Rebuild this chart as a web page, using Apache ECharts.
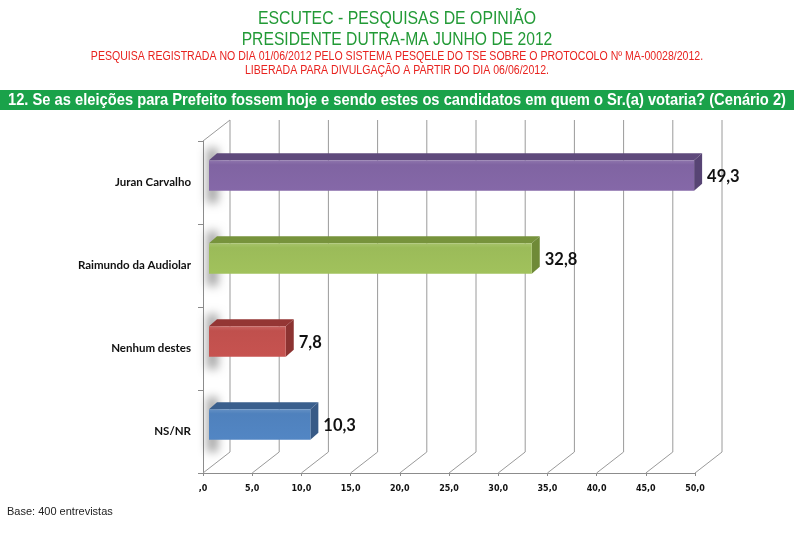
<!DOCTYPE html>
<html><head><meta charset="utf-8">
<script src="https://cdn.jsdelivr.net/npm/echarts@6/dist/echarts.min.js"></script>
<style>html,body{margin:0;padding:0;background:#fff}#c{width:794px;height:533px}</style>
</head><body><div id="c"></div>
<script>
const categories = ['NS/NR', 'Nenhum destes', 'Raimundo da Audiolar', 'Juran Carvalho'];
const values = [10.3, 7.8, 32.8, 49.3];
const frontColors = ['#4f81bd', '#c0504d', '#9bbb59', '#8064a2'];
const topColors = ['#3a5f8d', '#943634', '#77933c', '#5f4a7c'];
const sideColors = ['#385a86', '#8c3331', '#6f8a37', '#574474'];
const xTicks = [0, 5, 10, 15, 20, 25, 30, 35, 40, 45, 50];

const fmt = v => v === 0 ? ',0' : v.toFixed(1).replace('.', ',');
const WX = 27, WY = 21;      // back wall depth
const BX = 6, BY = -7;       // bar offset from front
const DX = 8, DY = 7;        // bar depth

const chart = echarts.init(document.getElementById('c'), null, {renderer: 'canvas'});
const sans = '"Liberation Sans", Arial, sans-serif';

function ntext(txt, x, y, size, color, bold, sx) {
  return {type: 'text', x: x, y: y, scaleX: sx, z: 5,
    style: {text: txt, textAlign: 'center', textVerticalAlign: 'middle', align: 'center', verticalAlign: 'middle',
      fill: color, font: (bold ? 'bold ' : '') + size + 'px ' + sans}};
}

chart.setOption({
  animation: false,
  backgroundColor: '#ffffff',
  title: [
    {text: 'Base: 400 entrevistas', left: 2, top: 501,
     textStyle: {fontFamily: sans, fontSize: 11, fontWeight: 'normal', color: '#222'}}
  ],
  graphic: [
    ntext('ESCUTEC - PESQUISAS DE OPINIÃO', 397, 19, 18, '#229a36', false, 0.88),
    ntext('PRESIDENTE DUTRA-MA JUNHO DE 2012', 397, 40, 18, '#229a36', false, 0.87),
    ntext('PESQUISA REGISTRADA NO DIA 01/06/2012 PELO SISTEMA PESQELE DO TSE SOBRE O PROTOCOLO Nº MA-00028/2012.', 397, 57, 12, '#e8231f', false, 0.88),
    ntext('LIBERADA PARA DIVULGAÇÃO A PARTIR DO DIA 06/06/2012.', 397, 71, 12, '#e8231f', false, 0.88),
    {type: 'rect', x: 0, y: 90, shape: {width: 794, height: 20}, style: {fill: '#1aa24a'}, z: 1},
    ntext('12. Se as eleições para Prefeito fossem hoje e sendo estes os candidatos em quem o Sr.(a) votaria? (Cenário 2)', 397, 100, 17, '#ffffff', true, 0.865)
  ],
  grid: {left: 203, right: 99, top: 141, bottom: 60, containLabel: false},
  xAxis: {
    type: 'value', min: 0, max: 50, interval: 5,
    axisLine: {show: true, lineStyle: {color: '#8c8c8c', width: 1}},
    axisTick: {show: true, length: 3, lineStyle: {color: '#8c8c8c'}},
    splitLine: {show: false},
    axisLabel: {formatter: fmt, margin: 12, color: '#111', fontFamily: '"DejaVu Sans", sans-serif', fontSize: 8, fontWeight: 'bold'}
  },
  yAxis: {
    type: 'category', data: categories,
    axisLine: {show: true, lineStyle: {color: '#8c8c8c', width: 1}},
    axisTick: {show: true, length: 5, alignWithLabel: false, lineStyle: {color: '#8c8c8c'}},
    axisLabel: {margin: 12, color: '#111', fontFamily: 'Lato, "Open Sans", sans-serif', fontSize: 11.5, fontWeight: 'bold'},
    splitLine: {show: false}
  },
  series: [
    {
      type: 'custom', z: 1, silent: true,
      encode: {x: 0, y: 1},
      data: xTicks.map(t => [t, 0]),
      renderItem: function (params, api) {
        const cs = params.coordSys;
        const t = api.value(0);
        const px = api.coord([t, 0])[0];
        const bottom = cs.y + cs.height;
        const ls = {stroke: '#9a9a9a', lineWidth: 1};
        const ch = [
          {type: 'line', shape: {x1: px + WX, y1: cs.y - WY, x2: px + WX, y2: bottom - WY}, style: ls},
          {type: 'line', shape: {x1: px, y1: bottom, x2: px + WX, y2: bottom - WY}, style: ls}
        ];
        if (t === 0) {
          ch.push({type: 'line', shape: {x1: px, y1: cs.y, x2: px + WX, y2: cs.y - WY}, style: ls});
        }
        return {type: 'group', children: ch};
      }
    },
    {
      type: 'custom', z: 3, silent: true,
      encode: {x: 0, y: 1},
      data: values.map((v, i) => [v, i]),
      renderItem: function (params, api) {
        const v = api.value(0);
        const i = api.value(1);
        const p0 = api.coord([0, i]);
        const p1 = api.coord([v, i]);
        const band = api.size([0, 1])[1];
        const h = band * 0.37;
        const x = p0[0] + BX;
        const w = p1[0] - p0[0];
        const y = p0[1] + BY - h / 2;
        const grad = {type: 'linear', x: 0, y: 0, x2: 0, y2: 1, colorStops: [
          {offset: 0, color: echarts.color.lift(frontColors[i], 0.12)},
          {offset: 0.15, color: frontColors[i]},
          {offset: 1, color: echarts.color.lift(frontColors[i], -0.04)}]};
        return {type: 'group', children: [
          {type: 'rect', shape: {x: x - 1002, y: y - 12, width: 11, height: h + 24},
           style: {fill: 'rgba(0,0,0,0.6)', shadowBlur: 10, shadowColor: 'rgba(0,0,0,0.6)', shadowOffsetX: 1000}},
          {type: 'polygon', shape: {points: [[x, y], [x + w, y], [x + w + DX, y - DY], [x + DX, y - DY]]},
           style: {fill: topColors[i]}},
          {type: 'polygon', shape: {points: [[x + w, y], [x + w + DX, y - DY], [x + w + DX, y + h - DY], [x + w, y + h]]},
           style: {fill: sideColors[i]}},
          {type: 'rect', shape: {x: x, y: y, width: w, height: h}, style: {fill: grad}},
          {type: 'text', style: {x: x + w + DX + 5, y: y + h / 2 + 1, text: fmt(v), textVerticalAlign: 'middle', verticalAlign: 'middle',
            fill: '#111', font: 'bold 16.5px Lato, "Open Sans", sans-serif'}}
        ]};
      }
    }
  ]
});
</script></body></html>
